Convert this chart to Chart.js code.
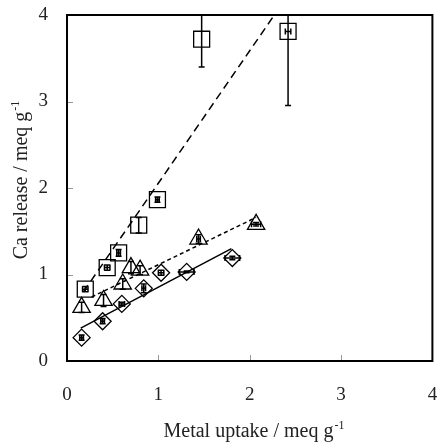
<!DOCTYPE html>
<html>
<head>
<meta charset="utf-8">
<title></title>
<script src="https://cdn.jsdelivr.net/npm/chart.js@4.4.0/dist/chart.umd.min.js"></script>
<style>
  html, body { margin: 0; padding: 0; background: #fff; }
</style>
</head>
<body>
<canvas id="chart" width="445" height="445"></canvas>
<script>
// squares (long dashed fit)
const sqX    = [0.20, 0.44, 0.565, 0.785, 0.99, 1.474, 2.42];
const sqY    = [0.83, 1.08, 1.25, 1.57, 1.865, 3.72, 3.81];
const sqXErr = [0.03, 0.03, 0.02, 0, 0.02, 0, 0.03];
const sqYErr = [0.03, 0.03, 0.04, 0.09, 0.03, 0.32, 0.855];
const sqFitX = [0.18, 2.27];
const sqFitY = [0.80, 4.00];

// triangles (short dashed fit)
const triX    = [0.16, 0.40, 0.61, 0.70, 0.80, 1.44, 2.07];
const triY    = [0.62, 0.70, 0.89, 1.08, 1.05, 1.41, 1.58];
const triXErr = [0, 0, 0, 0, 0, 0.02, 0.05];
const triYErr = [0.06, 0.07, 0.06, 0.07, 0.05, 0.05, 0.02];
const triFitX = [0.27, 2.07];
const triFitY = [0.74, 1.66];

// diamonds (solid fit)
const diaX    = [0.16, 0.39, 0.60, 0.84, 1.03, 1.31, 1.81];
const diaY    = [0.27, 0.46, 0.66, 0.84, 1.02, 1.03, 1.19];
const diaXErr = [0.02, 0.02, 0.03, 0.02, 0.03, 0.08, 0.08];
const diaYErr = [0.03, 0.03, 0.02, 0.05, 0.03, 0.01, 0.02];
const diaFitX = [0.15, 1.80];
const diaFitY = [0.38, 1.30];

const axisTicks = [0, 1, 2, 3, 4];
const xTitle = ['Metal uptake / meq g', '-1'];
const yTitle = ['Ca release / meq g', '-1'];

const FONT = '"Liberation Serif", "Times New Roman", serif';

function pts(xs, ys) {
    return xs.map((x, i) => ({ x: x, y: ys[i] }));
}

// fixed axis box sizes, no extra label padding so the plot area stays put
function fixBox(s, w, h) {
    if (w) s.width = w;
    if (h) s.height = h;
    s.paddingTop = 0; s.paddingBottom = 0;
    s.paddingLeft = 0; s.paddingRight = 0;
}

function drawSupText(ctx, parts, x0, baseline, size) {
    ctx.font = size + 'px ' + FONT;
    const w1 = ctx.measureText(parts[0]).width;
    const supSize = Math.round(size * 0.6);
    ctx.font = supSize + 'px ' + FONT;
    const w2 = ctx.measureText(parts[1]).width;
    const start = x0 - (w1 + w2 + 1) / 2;
    ctx.textAlign = 'left';
    ctx.textBaseline = 'alphabetic';
    ctx.font = size + 'px ' + FONT;
    ctx.fillText(parts[0], start, baseline);
    ctx.font = supSize + 'px ' + FONT;
    ctx.fillText(parts[1], start + w1 + 1, baseline - size * 0.4);
}

const decorations = {
    id: 'decorations',
    afterDatasetsDraw(chart) {
        const ctx = chart.ctx;
        const area = chart.chartArea;
        const xs = chart.scales.x, ys = chart.scales.y;
        ctx.save();
        ctx.beginPath();
        ctx.rect(area.left, area.top, area.right - area.left, area.bottom - area.top);
        ctx.clip();
        ctx.strokeStyle = '#000';
        ctx.lineWidth = 1.5;
        chart.data.datasets.forEach(ds => {
            if (!ds.xErr) return;
            ds.data.forEach((p, j) => {
                const px = xs.getPixelForValue(p.x);
                const py = ys.getPixelForValue(p.y);
                const ey = ds.yErr[j], ex = ds.xErr[j];
                ctx.beginPath();
                if (ey > 0) {
                    const y1 = ys.getPixelForValue(p.y - ey);
                    const y2 = ys.getPixelForValue(p.y + ey);
                    ctx.moveTo(px, y1); ctx.lineTo(px, y2);
                    ctx.moveTo(px - 3, y1); ctx.lineTo(px + 3, y1);
                    ctx.moveTo(px - 3, y2); ctx.lineTo(px + 3, y2);
                }
                if (ex > 0) {
                    const x1 = xs.getPixelForValue(p.x - ex);
                    const x2 = xs.getPixelForValue(p.x + ex);
                    ctx.moveTo(x1, py); ctx.lineTo(x2, py);
                    ctx.moveTo(x1, py - 3); ctx.lineTo(x1, py + 3);
                    ctx.moveTo(x2, py - 3); ctx.lineTo(x2, py + 3);
                }
                ctx.stroke();
            });
        });
        ctx.restore();
    },
    afterDraw(chart) {
        const ctx = chart.ctx;
        const a = chart.chartArea;
        const xs = chart.scales.x, ys = chart.scales.y;
        ctx.save();
        // inner tick marks
        ctx.strokeStyle = '#999';
        ctx.lineWidth = 1;
        ctx.beginPath();
        [1, 2, 3].forEach(v => {
            const px = Math.round(xs.getPixelForValue(v)) + 0.5;
            ctx.moveTo(px, a.bottom); ctx.lineTo(px, a.bottom - 6);
            const py = Math.round(ys.getPixelForValue(v)) + 0.5;
            ctx.moveTo(a.left, py); ctx.lineTo(a.left + 6, py);
        });
        ctx.stroke();
        // frame
        ctx.strokeStyle = '#000';
        ctx.lineWidth = 2;
        ctx.strokeRect(a.left, a.top, a.right - a.left, a.bottom - a.top);
        // axis titles
        ctx.fillStyle = '#222';
        drawSupText(ctx, xTitle, 254, 437, 20);
        ctx.translate(27, 180);
        ctx.rotate(-Math.PI / 2);
        drawSupText(ctx, yTitle, 0, 0, 20);
        ctx.restore();
    }
};

const ctx = document.getElementById('chart');
new Chart(ctx, {
    type: 'scatter',
    data: {
        datasets: [{
            label: 'fit squares',
            data: pts(sqFitX, sqFitY),
            showLine: true,
            borderColor: '#000',
            borderWidth: 1.5,
            borderDash: [8, 5],
            pointRadius: 0
        }, {
            label: 'fit triangles',
            data: pts(triFitX, triFitY),
            showLine: true,
            borderColor: '#000',
            borderWidth: 1.5,
            borderDash: [4, 3],
            pointRadius: 0
        }, {
            label: 'fit diamonds',
            data: pts(diaFitX, diaFitY),
            showLine: true,
            borderColor: '#000',
            borderWidth: 1.5,
            pointRadius: 0
        }, {
            label: 'squares',
            data: pts(sqX, sqY),
            xErr: sqXErr,
            yErr: sqYErr,
            pointStyle: 'rect',
            pointRadius: 11.3,
            pointBorderWidth: 1.3,
            borderColor: '#000',
            backgroundColor: 'rgba(0,0,0,0)'
        }, {
            label: 'triangles',
            data: pts(triX, triY),
            xErr: triXErr,
            yErr: triYErr,
            pointStyle: 'triangle',
            pointRadius: 10,
            pointBorderWidth: 1.3,
            borderColor: '#000',
            backgroundColor: 'rgba(0,0,0,0)'
        }, {
            label: 'diamonds',
            data: pts(diaX, diaY),
            xErr: diaXErr,
            yErr: diaYErr,
            pointStyle: 'rectRot',
            pointRadius: 8.5,
            pointBorderWidth: 1.3,
            borderColor: '#000',
            backgroundColor: 'rgba(0,0,0,0)'
        }]
    },
    options: {
        responsive: false,
        animation: false,
        layout: { padding: { top: 15, right: 8, left: 0, bottom: 0 } },
        plugins: {
            legend: { display: false },
            tooltip: { enabled: false }
        },
        scales: {
            x: {
                type: 'linear',
                min: 0, max: 4,
                afterFit: s => fixBox(s, 0, 84),
                afterBuildTicks: s => { s.ticks = axisTicks.map(v => ({ value: v })); },
                grid: { display: false, drawTicks: false },
                border: { display: false },
                ticks: { padding: 23, minRotation: 0, maxRotation: 0, color: '#222', font: { family: FONT, size: 19 } }
            },
            y: {
                type: 'linear',
                min: 0, max: 4,
                afterFit: s => fixBox(s, 67, 0),
                afterBuildTicks: s => { s.ticks = axisTicks.map(v => ({ value: v })); },
                grid: { display: false, drawTicks: false },
                border: { display: false },
                ticks: { padding: 19, minRotation: 0, maxRotation: 0, color: '#222', font: { family: FONT, size: 19 } }
            }
        }
    },
    plugins: [decorations]
});
</script>
</body>
</html>
